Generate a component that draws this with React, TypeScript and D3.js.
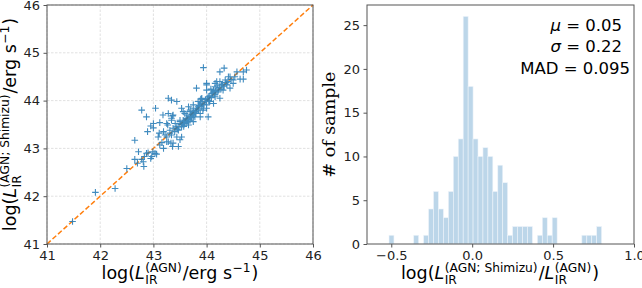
import * as d3 from 'd3';
import { useEffect, useRef } from 'react';

// log L_IR(AGN) [x] vs log L_IR(AGN; Shimizu) [y]
const POINTS: [number, number][] = [
  [41.48, 41.47], [41.91, 42.08], [42.28, 42.16], [42.5, 42.58],
  [42.65, 42.77], [42.65, 43.17], [42.7, 42.69], [42.72, 42.93], [42.78, 42.77], [42.81, 42.72],
  [42.82, 42.62], [42.83, 42.83], [42.87, 42.9], [42.9, 42.91], [42.95, 42.79], [42.97, 42.83],
  [42.99, 42.93], [43.03, 42.9], [43.06, 42.88],
  [42.78, 43.8], [42.87, 43.66], [42.89, 43.35], [42.95, 43.47], [43.0, 43.43], [43.0, 43.52],
  [43.04, 43.84], [43.09, 43.24], [43.11, 43.32], [43.12, 43.54], [43.12, 43.07], [43.16, 43.12],
  [43.18, 43.7], [43.19, 43.35], [43.19, 43.0], [43.22, 43.28], [43.25, 43.14], [43.25, 43.24],
  [43.25, 43.52], [43.27, 43.49], [43.28, 43.14], [43.28, 43.73], [43.28, 44.05], [43.31, 43.32],
  [43.31, 43.38], [43.33, 43.11], [43.34, 43.28], [43.34, 43.59], [43.34, 43.63], [43.34, 44.01],
  [43.36, 43.68], [43.36, 43.04], [43.37, 43.11], [43.37, 43.42], [43.37, 43.7], [43.41, 43.52],
  [43.44, 43.24], [43.44, 43.45], [43.44, 43.98], [43.47, 43.04], [43.47, 43.38], [43.5, 43.18],
  [43.5, 43.56], [43.5, 43.59], [43.53, 43.45], [43.53, 43.84], [43.53, 43.24], [43.56, 43.59],
  [43.56, 43.77], [43.59, 43.52], [43.59, 43.73], [43.63, 43.7], [43.66, 43.56], [43.66, 43.87],
  [43.66, 43.49], [43.69, 43.59], [43.69, 43.77], [43.69, 43.8], [43.72, 43.7], [43.75, 43.84],
  [43.75, 43.91], [43.75, 43.56], [43.78, 43.66], [43.78, 43.73], [43.81, 43.8], [43.81, 44.26],
  [43.84, 43.87], [43.84, 43.98], [43.88, 43.73], [43.88, 43.98], [43.88, 43.66], [43.89, 44.03],
  [43.91, 44.05], [43.94, 43.84], [43.94, 44.69], [43.97, 43.98], [44.0, 43.84], [44.0, 43.91],
  [44.0, 44.33], [44.0, 44.22], [44.0, 44.36], [44.03, 44.08], [44.03, 43.66], [44.06, 43.98],
  [44.1, 44.15], [44.13, 43.94], [44.13, 44.22], [44.16, 44.08], [44.16, 44.29], [44.16, 44.36],
  [44.19, 44.4], [44.22, 44.22], [44.25, 44.05], [44.25, 44.4], [44.25, 44.6], [44.28, 44.33],
  [44.31, 44.22], [44.33, 44.68], [44.35, 44.43], [44.38, 44.33], [44.41, 44.5], [44.44, 44.26],
  [44.44, 44.5], [44.5, 44.36], [44.5, 44.43], [44.53, 44.5], [44.57, 44.6], [44.63, 44.45],
  [44.69, 44.45], [44.69, 44.6], [44.75, 44.64],
  [43.45, 43.4], [43.48, 43.46], [43.52, 43.5], [43.55, 43.52], [43.58, 43.55], [43.6, 43.58],
  [43.62, 43.63], [43.64, 43.6], [43.67, 43.66], [43.7, 43.67], [43.72, 43.64], [43.74, 43.72],
  [43.76, 43.75], [43.79, 43.77], [43.8, 43.74], [43.82, 43.84], [43.85, 43.81], [43.86, 43.9],
  [43.9, 43.88], [43.92, 43.95], [43.95, 43.92], [43.98, 44.02], [44.01, 44.04], [44.04, 44.0],
  [44.06, 44.1], [44.09, 44.06], [44.12, 44.16], [44.15, 44.12], [44.18, 44.2], [44.21, 44.18],
  [44.24, 44.28], [44.27, 44.24], [44.3, 44.34], [44.33, 44.3], [44.37, 44.38], [44.4, 44.4],
  [44.46, 44.44], [43.4, 43.35], [43.57, 43.46], [43.63, 43.53], [43.93, 43.8], [44.08, 44.24],
  [44.2, 44.32],
];
const LUM_DOMAIN: [number, number] = [41, 46];
const LUM_TICKS = [41, 42, 43, 44, 45, 46];

// histogram of log(L_Shimizu / L), 43 equal bins
const HIST_COUNTS = [
  1, 0, 0, 0, 0, 1, 0, 1, 4, 6, 4, 3, 6, 10, 12, 26, 18, 12, 10, 11, 10, 6,
  9, 7, 1, 2, 2, 2, 2, 0, 1, 3, 1, 3, 0, 0, 0, 0, 0, 1, 1, 1, 2,
];
const HIST_MIN = -0.514;
const HIST_MAX = 0.8;
const RATIO_DOMAIN: [number, number] = [-0.65, 1.0];
const RATIO_TICKS = [-0.5, 0, 0.5, 1.0];
const COUNT_DOMAIN: [number, number] = [0, 27.3];
const COUNT_TICKS = [0, 5, 10, 15, 20, 25];
const STAT_NAMES = ['μ', 'σ', 'MAD'];
const STAT_VALUES = ['0.05', '0.22', '0.095'];

const W = 642;
const H = 288;
const FONT = 'DejaVu Sans';
const AXIS_COLOR = '#555';
const LABEL_SIZE = 17.5;
const TICK_SIZE = 13;

type Piece = { t?: string; it?: boolean; sup?: string; sub?: string };

// lays out a mathtext-like label; sup and sub are stacked after the base glyph
function richText(
  parent: d3.Selection<any, unknown, null, undefined>,
  pieces: Piece[],
  opts: { x: number; y: number; anchor: 'middle' | 'end'; size: number; rotate?: number }
) {
  const { size } = opts;
  const g = parent.append('g').attr('transform', `translate(${opts.x},${opts.y})${opts.rotate ? ` rotate(${opts.rotate})` : ''}`);
  const inner = g.append('g');
  let cx = 0;
  const add = (txt: string, x: number, y: number, fs: number, it = false) => {
    const t = inner
      .append('text')
      .attr('x', x)
      .attr('y', y)
      .attr('font-size', fs)
      .attr('font-style', it ? 'italic' : 'normal')
      .style('white-space', 'pre')
      .text(txt);
    return (t.node() as SVGTextElement).getComputedTextLength();
  };
  pieces.forEach((p) => {
    if (p.t) cx += add(p.t, cx, 0, size, p.it);
    if (p.sup || p.sub) {
      let w = 0;
      if (p.sup) w = Math.max(w, add(p.sup, cx + 0.5, -size * 0.42, size * 0.7));
      if (p.sub) w = Math.max(w, add(p.sub, cx + 0.5, size * 0.26, size * 0.7));
      cx += w + 1.5;
    }
  });
  const shift = opts.anchor === 'middle' ? -cx / 2 : -cx;
  inner.attr('transform', `translate(${shift},0)`);
}

export default function App() {
  const ref = useRef<SVGSVGElement | null>(null);

  useEffect(() => {
    if (!ref.current) return;
    const svg = d3.select(ref.current);
    svg.selectAll('*').remove();
    svg.attr('font-family', FONT).attr('fill', '#000');

    // ---------- left: luminosity comparison ----------
    const x = d3.scaleLinear().domain(LUM_DOMAIN).range([47, 313]);
    const y = d3.scaleLinear().domain(LUM_DOMAIN).range([244, 5]);
    const left = svg.append('g');

    left
      .append('g')
      .selectAll('line.gx')
      .data(LUM_TICKS)
      .join('line')
      .attr('x1', (d) => x(d))
      .attr('x2', (d) => x(d))
      .attr('y1', y.range()[0])
      .attr('y2', y.range()[1])
      .attr('stroke', '#d9d9d9')
      .attr('stroke-width', 0.8)
      .attr('stroke-dasharray', '2.5,1.5');
    left
      .append('g')
      .selectAll('line.gy')
      .data(LUM_TICKS)
      .join('line')
      .attr('y1', (d) => y(d))
      .attr('y2', (d) => y(d))
      .attr('x1', x.range()[0])
      .attr('x2', x.range()[1])
      .attr('stroke', '#d9d9d9')
      .attr('stroke-width', 0.8)
      .attr('stroke-dasharray', '2.5,1.5');

    // one-to-one line
    left
      .append('line')
      .attr('x1', x(LUM_DOMAIN[0]))
      .attr('y1', y(LUM_DOMAIN[0]))
      .attr('x2', x(LUM_DOMAIN[1]))
      .attr('y2', y(LUM_DOMAIN[1]))
      .attr('stroke', '#ff7f0e')
      .attr('stroke-width', 1.5)
      .attr('stroke-dasharray', '5,2.4');

    const arm = 3.3;
    const plus = d3.path();
    POINTS.forEach(([px, py]) => {
      const cx = x(px);
      const cy = y(py);
      plus.moveTo(cx - arm, cy);
      plus.lineTo(cx + arm, cy);
      plus.moveTo(cx, cy - arm);
      plus.lineTo(cx, cy + arm);
    });
    left
      .append('path')
      .attr('d', plus.toString())
      .attr('stroke', '#1f77b4')
      .attr('stroke-width', 1.1)
      .attr('stroke-opacity', 0.85)
      .attr('fill', 'none');

    const frame = (g: any, x0: number, x1: number, y0: number, y1: number) =>
      g
        .append('rect')
        .attr('x', x0)
        .attr('y', y0)
        .attr('width', x1 - x0)
        .attr('height', y1 - y0)
        .attr('fill', 'none')
        .attr('stroke', AXIS_COLOR)
        .attr('stroke-width', 1);
    frame(left, 47, 313, 5, 244);

    const styleAxis = (g: any) => {
      g.select('.domain').remove();
      g.selectAll('.tick line').attr('stroke', AXIS_COLOR);
      g.selectAll('.tick text').attr('font-size', TICK_SIZE).attr('font-family', FONT).attr('fill', '#222');
    };
    left
      .append('g')
      .attr('transform', 'translate(0,244)')
      .call(d3.axisBottom(x).tickValues(LUM_TICKS).tickFormat(d3.format('d')).tickSize(3.5).tickPadding(3.5))
      .call(styleAxis);
    left
      .append('g')
      .attr('transform', 'translate(47,0)')
      .call(d3.axisLeft(y).tickValues(LUM_TICKS).tickFormat(d3.format('d')).tickSize(3.5).tickPadding(3.5))
      .call(styleAxis);

    richText(left, [{ t: 'log(' }, { t: 'L', it: true, sup: '(AGN)', sub: 'IR' }, { t: '/erg s', sup: '−1' }, { t: ')' }], {
      x: 180,
      y: 279,
      anchor: 'middle',
      size: LABEL_SIZE,
    });
    richText(
      left,
      [{ t: 'log(' }, { t: 'L', it: true, sup: '(AGN; Shimizu)', sub: 'IR' }, { t: '/erg s', sup: '−1' }, { t: ')' }],
      { x: 16, y: 124.5, anchor: 'middle', size: LABEL_SIZE, rotate: -90 }
    );

    // ---------- right: histogram of the log ratio ----------
    const xr = d3.scaleLinear().domain(RATIO_DOMAIN).range([367, 634]);
    const yr = d3.scaleLinear().domain(COUNT_DOMAIN).range([244, 5]);
    const right = svg.append('g');
    const binW = (HIST_MAX - HIST_MIN) / HIST_COUNTS.length;
    const bins = HIST_COUNTS.map((c, i) => ({ x0: HIST_MIN + i * binW, x1: HIST_MIN + (i + 1) * binW, c }));

    right
      .append('g')
      .selectAll('rect')
      .data(bins.filter((b) => b.c > 0))
      .join('rect')
      .attr('x', (b) => xr(b.x0))
      .attr('width', (b) => xr(b.x1) - xr(b.x0))
      .attr('y', (b) => yr(b.c))
      .attr('height', (b) => yr(0) - yr(b.c))
      .attr('fill', '#bcd6e9')
      .attr('stroke', '#eef4fa')
      .attr('stroke-width', 0.6);

    frame(right, 367, 634, 5, 244);
    right
      .append('g')
      .attr('transform', 'translate(0,244)')
      .call(d3.axisBottom(xr).tickValues(RATIO_TICKS).tickFormat(d3.format('.1f')).tickSize(3.5).tickPadding(3.5))
      .call(styleAxis);
    right
      .append('g')
      .attr('transform', 'translate(367,0)')
      .call(d3.axisLeft(yr).tickValues(COUNT_TICKS).tickFormat(d3.format('d')).tickSize(3.5).tickPadding(3.5))
      .call(styleAxis);

    right
      .append('text')
      .attr('transform', 'translate(335,124.5) rotate(-90)')
      .attr('text-anchor', 'middle')
      .attr('font-family', 'DejaVu Serif')
      .attr('font-size', LABEL_SIZE)
      .text('# of sample');

    richText(
      right,
      [
        { t: 'log(' },
        { t: 'L', it: true, sup: '(AGN; Shimizu)', sub: 'IR' },
        { t: '/' },
        { t: 'L', it: true, sup: '(AGN)', sub: 'IR' },
        { t: ')' },
      ],
      { x: 500, y: 279, anchor: 'middle', size: LABEL_SIZE }
    );

    // summary statistics, right aligned in the upper corner
    STAT_NAMES.forEach((name, i) => {
      const isGreek = name.length === 1;
      richText(right, [{ t: name, it: isGreek }, { t: ` = ${STAT_VALUES[i]}` }], {
        x: isGreek ? 622 : 630,
        y: 30.5 + i * 21.5,
        anchor: 'end',
        size: 16.5,
      });
    });
  }, []);

  return (
    <svg
      ref={ref}
      width={W}
      height={H}
      style={{ position: 'absolute', left: 0, top: 0, display: 'block', background: '#fff' }}
    />
  );
}
